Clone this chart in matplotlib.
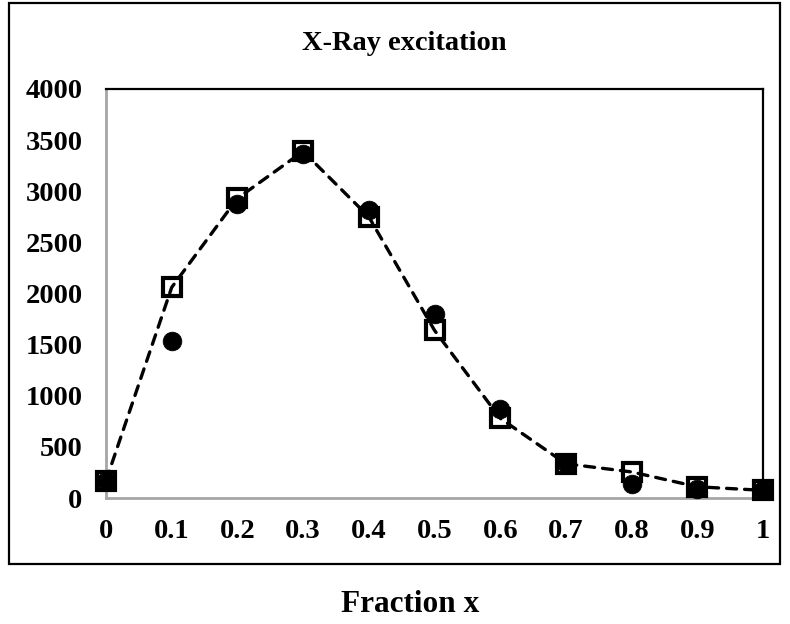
import matplotlib
matplotlib.use("Agg")
import matplotlib.pyplot as plt
from matplotlib.patches import Rectangle

plt.rcParams["font.family"] = ["Liberation Serif", "DejaVu Serif"]
plt.rcParams["font.weight"] = "bold"

# fraction x
fraction = [0, 0.1, 0.2, 0.3, 0.4, 0.5, 0.6, 0.7, 0.8, 0.9, 1.0]
# open squares joined by the dashed line
squares = [170, 2060, 2930, 3390, 2750, 1640, 780, 335, 255, 110, 75]
# filled circles
circles = [170, 1540, 2880, 3360, 2820, 1800, 870, 340, 140, 90, 75]

y_ticks = [0, 500, 1000, 1500, 2000, 2500, 3000, 3500, 4000]
x_ticks = [0, 0.1, 0.2, 0.3, 0.4, 0.5, 0.6, 0.7, 0.8, 0.9, 1]
x_labels = ["0", "0.1", "0.2", "0.3", "0.4", "0.5", "0.6", "0.7", "0.8", "0.9", "1"]

fig = plt.figure(figsize=(7.9, 6.24), dpi=100)
ax = fig.add_axes([0.1342, 0.2019, 0.8316, 0.6555])

ax.plot(fraction, circles, linestyle="none", marker="o", markersize=13.5,
        color="black", markeredgewidth=0.5, clip_on=False, zorder=3)
ax.plot(fraction, squares, linestyle="--", linewidth=2.4, color="black",
        dashes=(3, 2.4), dash_capstyle="round",
        marker="s", markersize=13.5, markerfacecolor="none",
        markeredgecolor="black", markeredgewidth=3,
        clip_on=False, zorder=4)

ax.set_xlim(0, 1)
ax.set_ylim(0, 4000)
ax.set_xticks(x_ticks)
ax.set_xticklabels(x_labels)
ax.set_yticks(y_ticks)
ax.tick_params(axis="both", length=0, labelsize=20.5)
ax.tick_params(axis="y", pad=17)
ax.tick_params(axis="x", pad=15)
for lab in ax.get_xticklabels() + ax.get_yticklabels():
    lab.set_fontweight("bold")

ax.spines["left"].set_color("#a6a6a6")
ax.spines["bottom"].set_color("#a6a6a6")
ax.spines["left"].set_linewidth(2)
ax.spines["bottom"].set_linewidth(2)
ax.spines["top"].set_linewidth(1.6)
ax.spines["right"].set_linewidth(1.6)

fig.text(0.512, 0.931, "X-Ray excitation", ha="center", va="center",
         fontsize=20.5, fontweight="bold")
fig.text(0.519, 0.031, "Fraction x", ha="center", va="center",
         fontsize=22.5, fontweight="bold")

border = Rectangle((9 / 790, 1 - 564 / 624), 771 / 790, 561 / 624,
                   transform=fig.transFigure, fill=False,
                   edgecolor="black", linewidth=1.6)
fig.patches.append(border)

fig.savefig("out.png", dpi=100)
